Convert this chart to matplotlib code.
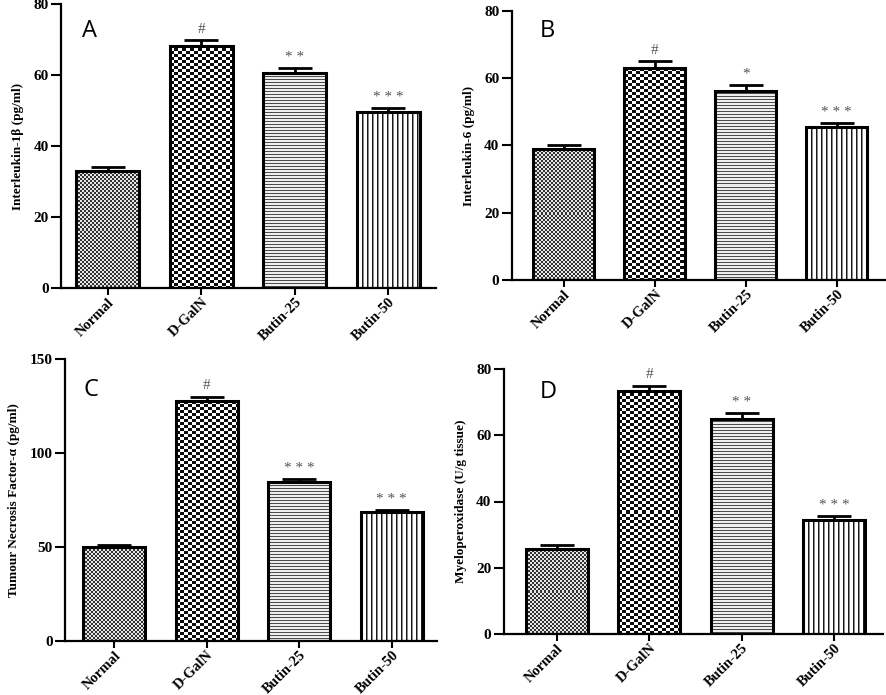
import numpy as np
import matplotlib
matplotlib.use("Agg")
import matplotlib.pyplot as plt

categories = ["Normal", "D-GalN", "Butin-25", "Butin-50"]

il1b_mean = [33.0, 68.3, 60.5, 49.7]
il1b_err = [1.2, 1.5, 1.5, 1.0]
il1b_sig = ["", "#", "* *", "* * *"]

il6_mean = [39.0, 63.0, 56.3, 45.4]
il6_err = [1.0, 2.0, 1.8, 1.2]
il6_sig = ["", "#", "*", "* * *"]

tnf_mean = [50.0, 127.6, 84.5, 68.5]
tnf_err = [1.0, 2.4, 1.5, 1.0]
tnf_sig = ["", "#", "* * *", "* * *"]

mpo_mean = [25.8, 73.5, 65.0, 34.5]
mpo_err = [1.0, 1.5, 1.7, 1.0]
mpo_sig = ["", "#", "* *", "* * *"]

panels = [
    dict(letter="A", mean=il1b_mean, err=il1b_err, sig=il1b_sig,
         ylabel="Interleukin-1\u03b2 (pg/ml)", ymax=80, yticks=[0, 20, 40, 60, 80],
         pos=[61/886, 1-288/695, 375/886, 284/695], xlim=(-0.50, 3.51),
         letter_xy=(0.077, 0.905)),
    dict(letter="B", mean=il6_mean, err=il6_err, sig=il6_sig,
         ylabel="Interleukin-6 (pg/ml)", ymax=80, yticks=[0, 20, 40, 60, 80],
         pos=[512/886, 1-280/695, 373/886, 269/695], xlim=(-0.57, 3.53),
         letter_xy=(0.096, 0.926)),
    dict(letter="C", mean=tnf_mean, err=tnf_err, sig=tnf_sig,
         ylabel="Tumour Necrosis Factor-\u03b1 (pg/ml)", ymax=150, yticks=[0, 50, 100, 150],
         pos=[65/886, 1-641/695, 372/886, 282/695], xlim=(-0.53, 3.49),
         letter_xy=(0.07, 0.89)),
    dict(letter="D", mean=mpo_mean, err=mpo_err, sig=mpo_sig,
         ylabel="Myeloperoxidase (U/g tissue)", ymax=80, yticks=[0, 20, 40, 60, 80],
         pos=[504/886, 1-634/695, 379/886, 265/695], xlim=(-0.57, 3.53),
         letter_xy=(0.116, 0.913)),
]

kinds = ["fine", "coarse", "hlines", "vlines"]


def texture(kind, h, w):
    i, j = np.indices((max(h, 1), max(w, 1)))
    if kind == "fine":
        v = ((i // 2 + j // 2) % 2).astype(float)
        return 0.2 + 0.7 * v
    if kind == "coarse":
        v = ((i // 3 + j // 4) % 2).astype(float)
        return 0.05 + 0.95 * v
    if kind == "hlines":
        v = np.where(i % 3 == 0, 0.3, 0.93)
        return v
    v = np.where(j % 5 == 0, 0.1, np.where(j % 5 == 1, 0.55, 1.0))
    return v


serif = "Liberation Serif"
fig = plt.figure(figsize=(8.86, 6.95), dpi=100)

for p in panels:
    ax = fig.add_axes(p["pos"])
    x = np.arange(len(categories))
    ax.set_xlim(*p["xlim"])
    ax.set_ylim(0, p["ymax"])
    bars = ax.bar(x, p["mean"], width=0.67, facecolor="none",
                  edgecolor="black", linewidth=2.2, zorder=3)
    for bar, kind in zip(bars, kinds):
        x0, y0 = bar.get_x(), bar.get_y()
        bw, bh = bar.get_width(), bar.get_height()
        (px0, py0), (px1, py1) = ax.transData.transform([(x0, y0), (x0 + bw, y0 + bh)])
        w = int(round(abs(px1 - px0)))
        h = int(round(abs(py1 - py0)))
        img = texture(kind, h, w)
        im = ax.imshow(img, cmap="gray", vmin=0, vmax=1, extent=(x0, x0 + bw, y0, y0 + bh),
                       aspect="auto", interpolation="nearest", zorder=2)
        im.set_clip_path(bar)
    ax.set_xlim(*p["xlim"])
    ax.set_ylim(0, p["ymax"])
    ax.errorbar(x, p["mean"], yerr=[np.zeros(len(x)), p["err"]], fmt="none",
                ecolor="black", elinewidth=2, capsize=12, capthick=2, zorder=4)
    for xi, m, e, s in zip(x, p["mean"], p["err"], p["sig"]):
        if s:
            ax.annotate(s, (xi, m + e), xytext=(0, 3), textcoords="offset points",
                        ha="center", va="bottom", fontsize=11, color="#555555",
                        family=serif)
    for side in ["top", "right"]:
        ax.spines[side].set_visible(False)
    for side in ["left", "bottom"]:
        ax.spines[side].set_linewidth(1.6)
    ax.set_yticks(p["yticks"])
    ax.set_yticklabels([str(t) for t in p["yticks"]], family=serif,
                       fontweight="bold", fontsize=11)
    ax.set_xticks(x)
    ax.set_xticklabels(categories, rotation=45, ha="right", rotation_mode="anchor",
                       family=serif, fontweight="bold", fontsize=10.5)
    ax.tick_params(axis="y", direction="out", length=7, width=1.5, pad=2)
    ax.tick_params(axis="x", direction="out", length=5, width=1.5, pad=0.5)
    ax.set_ylabel(p["ylabel"], family=serif, fontweight="bold", fontsize=9.5, labelpad=7)
    ax.text(p["letter_xy"][0], p["letter_xy"][1], p["letter"], transform=ax.transAxes,
            ha="center", va="center", fontsize=17, family="Open Sans")

fig.savefig("out.png", dpi=100)
